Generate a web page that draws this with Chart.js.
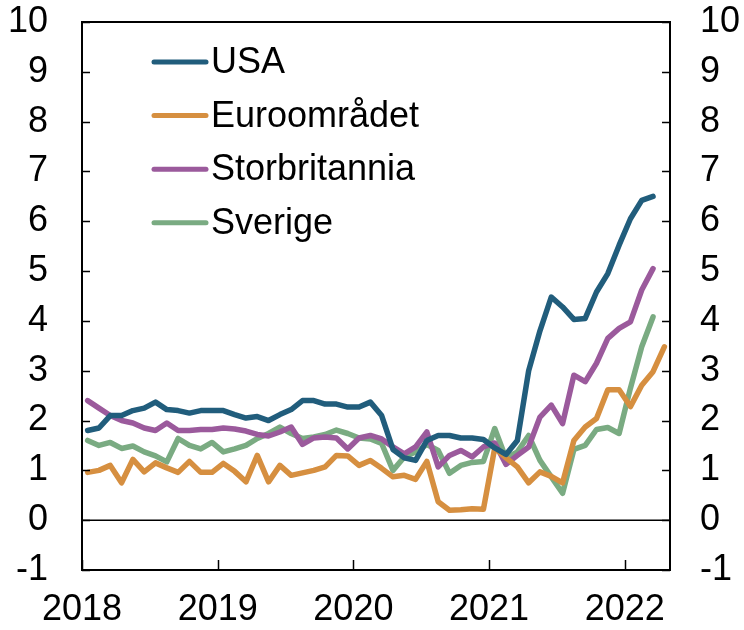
<!DOCTYPE html>
<html>
<head>
<meta charset="utf-8">
<script src="https://cdn.jsdelivr.net/npm/chart.js@4.4.1/dist/chart.umd.min.js"></script>
<style>
  html, body { margin: 0; padding: 0; background: #fff; }
  #wrap { width: 744px; height: 630px; }
</style>
</head>
<body>
<div id="wrap"><canvas id="myChart" width="744" height="630"></canvas></div>
<script>
// monthly, Jan 2018 onwards
const yearLabels = ['2018', '2019', '2020', '2021', '2022'];

const usa = [1.8, 1.85, 2.1, 2.1, 2.2, 2.25, 2.37, 2.22, 2.2, 2.15, 2.2, 2.2,
  2.2, 2.12, 2.05, 2.08, 2.0, 2.12, 2.22, 2.4, 2.4, 2.33, 2.33, 2.27,
  2.27, 2.37, 2.1, 1.42, 1.25, 1.2, 1.6, 1.7, 1.7, 1.65, 1.65, 1.62,
  1.45, 1.32, 1.6, 3.0, 3.8, 4.48, 4.28, 4.03, 4.05, 4.58, 4.95, 5.52,
  6.05, 6.42, 6.5];

const euro = [0.96, 1.0, 1.1, 0.75, 1.22, 0.97, 1.15, 1.05, 0.96, 1.18, 0.96, 0.96,
  1.14, 0.98, 0.77, 1.3, 0.77, 1.1, 0.9, 0.95, 1.0, 1.07, 1.3, 1.29,
  1.1, 1.2, 1.04, 0.87, 0.9, 0.82, 1.18, 0.37, 0.2, 0.21, 0.23, 0.22,
  1.45, 1.25, 1.07, 0.75, 0.97, 0.88, 0.75, 1.6, 1.87, 2.04, 2.62, 2.62,
  2.28, 2.71, 2.98, 3.48];

const uk = [2.4, 2.25, 2.1, 2.0, 1.95, 1.85, 1.8, 1.95, 1.8, 1.8, 1.82, 1.82,
  1.85, 1.83, 1.79, 1.72, 1.69, 1.77, 1.87, 1.52, 1.65, 1.67, 1.65, 1.43,
  1.65, 1.7, 1.63, 1.47, 1.33, 1.47, 1.77, 1.07, 1.3, 1.4, 1.27, 1.47,
  1.55, 1.12, 1.3, 1.47, 2.07, 2.31, 1.94, 2.91, 2.78, 3.15, 3.65, 3.85,
  3.98, 4.62, 5.05];

const sweden = [1.6, 1.5, 1.56, 1.44, 1.49, 1.37, 1.29, 1.17, 1.64, 1.5, 1.43, 1.56,
  1.37, 1.43, 1.5, 1.64, 1.74, 1.87, 1.74, 1.64, 1.67, 1.72, 1.81, 1.74,
  1.65, 1.63, 1.54, 1.0, 1.27, 1.37, 1.52, 1.4, 0.94, 1.1, 1.16, 1.18,
  1.84, 1.24, 1.37, 1.7, 1.2, 0.87, 0.54, 1.42, 1.5, 1.82, 1.86, 1.74,
  2.65, 3.48, 4.08];

const yMin = -1, yMax = 10;
const FONT = '"Liberation Sans", Arial, sans-serif';

// points sit mid-month on a month axis (0 = 1 Jan 2018)
function toPoints(arr) {
  return arr.map((v, i) => ({ x: i + 0.5, y: v }));
}

const series = [
  { label: 'USA', data: usa, color: '#215d7c' },
  { label: 'Euroområdet', data: euro, color: '#d68f40' },
  { label: 'Storbritannia', data: uk, color: '#9b5a9c' },
  { label: 'Sverige', data: sweden, color: '#7aab82' }
];

const frame = {
  id: 'frame',
  afterDatasetsDraw(chart) {
    const c = chart.ctx, a = chart.chartArea;
    const x = chart.scales.x, y = chart.scales.y;
    c.save();
    c.strokeStyle = '#000';
    // zero line
    c.lineWidth = 1.5;
    c.beginPath();
    c.moveTo(a.left, y.getPixelForValue(0));
    c.lineTo(a.right, y.getPixelForValue(0));
    c.stroke();
    // inward ticks
    for (let v = yMin; v <= yMax; v++) {
      const py = Math.round(y.getPixelForValue(v)) + 0.5;
      c.beginPath();
      c.moveTo(a.left, py); c.lineTo(a.left + 8, py);
      c.moveTo(a.right, py); c.lineTo(a.right - 8, py);
      c.stroke();
    }
    yearLabels.forEach((lab, i) => {
      const px = Math.round(x.getPixelForValue(i * 12)) + 0.5;
      c.beginPath();
      c.moveTo(px, a.bottom); c.lineTo(px, a.bottom - 10);
      c.stroke();
    });
    // box
    c.lineWidth = 2;
    c.strokeRect(a.left, a.top, a.right - a.left, a.bottom - a.top);
    // legend
    c.font = '36px ' + FONT;
    c.textBaseline = 'middle';
    c.textAlign = 'left';
    c.lineCap = 'round';
    chart.data.datasets.forEach((ds, i) => {
      const ly = 62 + i * 53.6;
      c.strokeStyle = ds.borderColor;
      c.lineWidth = 5;
      c.beginPath();
      c.moveTo(154, ly); c.lineTo(206, ly);
      c.stroke();
      c.fillStyle = '#000';
      c.fillText(ds.label, 211, ly + 1);
    });
    c.restore();
  }
};

const ctx = document.getElementById('myChart');

const tickFont = { family: FONT, size: 36 };

function fixY(w) {
  return s => { s.width = w; s.paddingTop = 0; s.paddingBottom = 0; };
}

var graphData = {
  type: 'line',
  data: {
    datasets: series.map(s => ({
      label: s.label,
      data: toPoints(s.data),
      borderColor: s.color,
      backgroundColor: s.color,
      borderWidth: 5.5,
      borderJoinStyle: 'round',
      borderCapStyle: 'round',
      pointRadius: 0,
      tension: 0
    }))
  },
  options: {
    responsive: false,
    animation: false,
    layout: { padding: { top: 22, left: 0, right: 0, bottom: 0 } },
    plugins: { legend: { display: false }, tooltip: { enabled: false } },
    scales: {
      x: {
        type: 'linear',
        min: 0,
        max: 52,
        grid: { display: false, drawTicks: false },
        border: { display: false },
        afterBuildTicks: s => { s.ticks = yearLabels.map((l, i) => ({ value: i * 12 })); },
        afterFit: s => { s.height = 60; s.paddingLeft = 0; s.paddingRight = 0; },
        ticks: {
          font: tickFont,
          color: '#000',
          padding: 18,
          maxRotation: 0,
          autoSkip: false,
          callback: v => yearLabels[v / 12]
        }
      },
      y: {
        position: 'left',
        min: yMin,
        max: yMax,
        grid: { display: false, drawTicks: false },
        border: { display: false },
        afterFit: fixY(82),
        ticks: { stepSize: 1, font: tickFont, color: '#000', padding: 34 }
      },
      y2: {
        position: 'right',
        min: yMin,
        max: yMax,
        grid: { display: false, drawTicks: false },
        border: { display: false },
        afterFit: fixY(74),
        ticks: { stepSize: 1, font: tickFont, color: '#000', padding: 30 }
      }
    }
  },
  plugins: [frame]
};

var myChart = new Chart(ctx, graphData);
</script>
</body>
</html>
